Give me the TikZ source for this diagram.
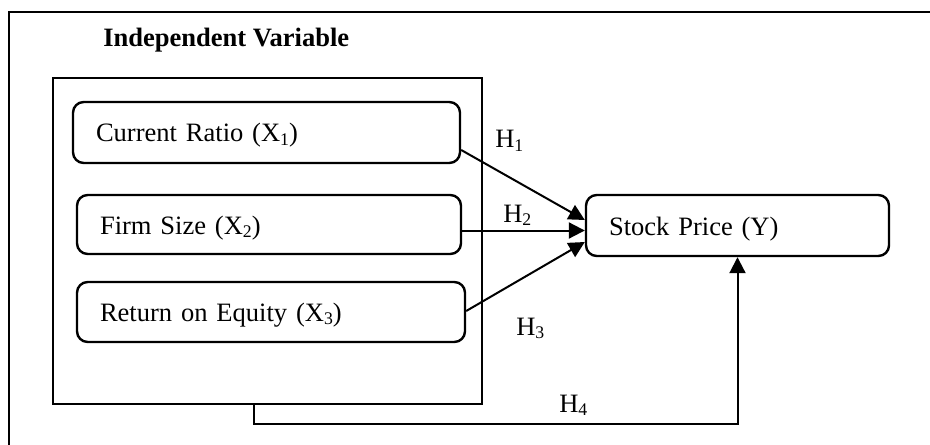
\documentclass[tikz,border=0pt]{standalone}
\usepackage{fontspec}
\setmainfont{Liberation Serif}
\usetikzlibrary{arrows.meta,calc}
% subscript index, set smaller and slightly lowered
\newcommand\lowidx[1]{\raisebox{-0.13em}{\fontsize{13.3pt}{14pt}\selectfont #1}}
\begin{document}
\begin{tikzpicture}[x=0.75pt,y=-0.75pt,
  font=\fontsize{19.9pt}{24pt}\selectfont,
  frameline/.style={line width=1.6pt},
  varbox/.style={draw,line width=1.8pt,rounded corners=8pt,align=left,
    inner xsep=17.25pt,inner ysep=0pt,text height=14.25pt,text depth=0pt},
  link/.style={line width=1.5pt,-{Triangle[length=12pt,width=12pt]}},
  hlabel/.style={anchor=base west,inner sep=0pt}]
\useasboundingbox (0,0) rectangle (930,445);

% outer frame (only its top and left edges fall inside the page)
\draw[frameline] (9,445) -- (9,12) -- (930,12);

\node[hlabel,font=\fontsize{19.9pt}{24pt}\selectfont\bfseries] (title) at (103,47) {Independent Variable};

% group box of the independent variables
\node[draw,frameline,minimum width=321.75pt,minimum height=244.5pt,inner sep=0pt] (ivbox) at (267.5,241) {};

\node[varbox,text width=255.75pt,minimum height=45.75pt] (cr) at (266.5,132.5) {Current Ratio (X\lowidx{1})};
\node[varbox,text width=253.5pt,minimum height=44.25pt] (fs) at (269,224.5) {Firm Size (X\lowidx{2})};
\node[varbox,text width=256.5pt,minimum height=45pt] (roe) at (271,312) {Return on Equity (X\lowidx{3})};
\node[varbox,text width=192.75pt,minimum height=45.75pt] (sp) at (737.5,225.5) {Stock Price (Y)};

% hypothesis paths
\draw[link] ($(cr.east)+(0,17.5)$) -- ($(sp.west)+(0,-5.5)$);
\draw[link] ($(fs.east)+(0,6)$) -- ($(sp.west)+(0,5)$);
\draw[link] ($(roe.east)+(0,-1)$) -- ($(sp.west)+(0,16.5)$);
\coordinate (h4start) at ($(ivbox.south)+(-13.5,0)$);
\draw[link] (h4start) -- ++(0,19) -| (sp.south);

\node[hlabel] (h1) at (495,148) {H\lowidx{1}};
\node[hlabel] (h2) at (503,222) {H\lowidx{2}};
\node[hlabel] (h3) at (516,335) {H\lowidx{3}};
\node[hlabel] (h4) at (559,412) {H\lowidx{4}};
\end{tikzpicture}
\end{document}
